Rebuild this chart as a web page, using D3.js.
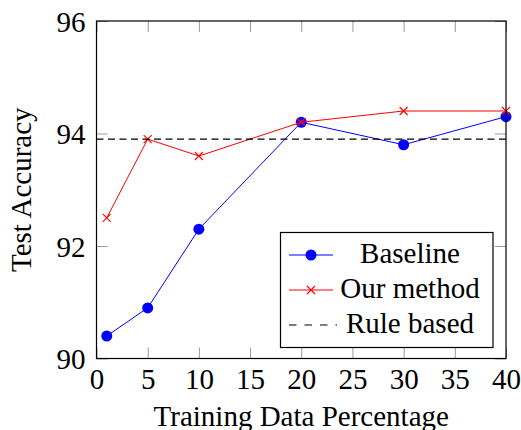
<!DOCTYPE html>
<html lang="en">
<head>
	<meta charset="UTF-8"/>
	<title>Test Accuracy vs Training Data Percentage</title>
	<script src="https://d3js.org/d3.v7.min.js"></script>
	<style>
		body { margin: 0; background: white; }
		text { font-family: "Liberation Serif", "Times New Roman", serif; font-size: 29px; fill: black; }
	</style>
</head>
<body>
	<script>
		// data
		var percentages = [1, 5, 10, 20, 30, 40];
		var baseline    = [90.4, 90.9, 92.3, 94.2, 93.8, 94.3];
		var ourMethod   = [92.5, 93.9, 93.6, 94.2, 94.4, 94.4];
		var ruleBased   = 93.9;
		var xTicks = [0, 5, 10, 15, 20, 25, 30, 35, 40];
		var yTicks = [90, 92, 94, 96];
		var seriesNames = ["Baseline", "Our method", "Rule based"];

		var w = 521;
		var h = 430;
		// plot box edges (window.top is read only, so no plain "top")
		var plotL = 96.5, plotR = 506, plotT = 21, plotB = 358.5;

		var xScale = d3.scaleLinear()
					.domain([0, 40])
					.range([plotL, plotR]);

		var yScale = d3.scaleLinear()
					.domain([90, 96])
					.range([plotB, plotT]);

		var svg = d3.select("body")
					.append("svg")
					.attr("width", w)
					.attr("height", h);

		// ticks point inward on all four sides
		var xAxis = svg.append("g")
			.attr("transform", "translate(0," + plotB + ")")
			.call(d3.axisBottom(xScale).tickValues(xTicks).tickFormat(d3.format("d"))
				.tickSize(-11).tickPadding(10));
		var yAxis = svg.append("g")
			.attr("transform", "translate(" + plotL + ",0)")
			.call(d3.axisLeft(yScale).tickValues(yTicks).tickFormat(d3.format("d"))
				.tickSize(-11).tickPadding(11));
		var xTop = svg.append("g")
			.attr("transform", "translate(0," + plotT + ")")
			.call(d3.axisTop(xScale).tickValues(xTicks).tickSize(-11).tickFormat(""));
		var yRight = svg.append("g")
			.attr("transform", "translate(" + plotR + ",0)")
			.call(d3.axisRight(yScale).tickValues(yTicks).tickSize(-11).tickFormat(""));

		[xAxis, yAxis, xTop, yRight].forEach(function(g){
			g.select(".domain").remove();
			g.selectAll("line").attr("stroke", "#999").attr("stroke-width", 1);
			g.selectAll("text")
				.attr("font-family", "Liberation Serif, serif")
				.attr("font-size", 28)
				.attr("fill", "black");
		});
		yAxis.selectAll("text").attr("dy", "0.36em");

		var line = d3.line()
			.x(function(d){ return xScale(d[0]); })
			.y(function(d){ return yScale(d[1]); });

		var basePts = percentages.map(function(p, i){ return [p, baseline[i]]; });
		var ourPts  = percentages.map(function(p, i){ return [p, ourMethod[i]]; });

		// Baseline
		svg.append("path")
			.attr("d", line(basePts))
			.attr("fill", "none")
			.attr("stroke", "blue")
			.attr("stroke-width", 1);

		svg.selectAll("circle.base")
			.data(basePts)
			.enter()
			.append("circle")
			.attr("class", "base")
			.attr("cx", function(d){ return xScale(d[0]); })
			.attr("cy", function(d){ return yScale(d[1]); })
			.attr("r", 5.5)
			.attr("fill", "blue");

		// Our method
		svg.append("path")
			.attr("d", line(ourPts))
			.attr("fill", "none")
			.attr("stroke", "red")
			.attr("stroke-width", 1);

		function cross(g, cx, cy) {
			var s = 4;
			g.append("path")
				.attr("d", "M" + (cx - s) + "," + (cy - s) + "L" + (cx + s) + "," + (cy + s) +
						   "M" + (cx - s) + "," + (cy + s) + "L" + (cx + s) + "," + (cy - s))
				.attr("stroke", "red")
				.attr("stroke-width", 1.1)
				.attr("fill", "none");
		}
		ourPts.forEach(function(d){ cross(svg, xScale(d[0]), yScale(d[1])); });

		// Rule based
		svg.append("line")
			.attr("x1", plotL).attr("x2", plotR)
			.attr("y1", yScale(ruleBased)).attr("y2", yScale(ruleBased))
			.attr("stroke", "black")
			.attr("stroke-width", 1.1)
			.attr("stroke-dasharray", "7,4.5");

		// frame
		svg.append("rect")
			.attr("x", plotL).attr("y", plotT)
			.attr("width", plotR - plotL).attr("height", plotB - plotT)
			.attr("fill", "none")
			.attr("stroke", "black")
			.attr("stroke-width", 1.2);

		// legend
		var lg = svg.append("g");
		lg.append("rect")
			.attr("x", 280.5).attr("y", 232.5)
			.attr("width", 212.5).attr("height", 115)
			.attr("fill", "white")
			.attr("stroke", "black")
			.attr("stroke-width", 1.2);

		var rows = [255, 290, 325];
		lg.append("line").attr("x1", 289).attr("x2", 333).attr("y1", rows[0]).attr("y2", rows[0])
			.attr("stroke", "blue").attr("stroke-width", 1);
		lg.append("circle").attr("cx", 311).attr("cy", rows[0]).attr("r", 5.5).attr("fill", "blue");
		lg.append("line").attr("x1", 289).attr("x2", 333).attr("y1", rows[1]).attr("y2", rows[1])
			.attr("stroke", "red").attr("stroke-width", 1);
		cross(lg, 311, rows[1]);
		lg.append("line").attr("x1", 289).attr("x2", 337).attr("y1", rows[2]).attr("y2", rows[2])
			.attr("stroke", "black").attr("stroke-width", 1.1)
			.attr("stroke-dasharray", "7.5,8");

		lg.selectAll("text.legend")
			.data(seriesNames)
			.enter()
			.append("text")
			.attr("class", "legend")
			.attr("text-anchor", "middle")
			.attr("x", 410)
			.attr("y", function(d, i){ return rows[i] + 8; })
			.text(function(d){ return d; });

		// axis labels
		svg.append("text")
			.attr("text-anchor", "middle")
			.attr("x", (plotL + plotR) / 2)
			.attr("y", 426)
			.text("Training Data Percentage");

		svg.append("text")
			.attr("text-anchor", "middle")
			.attr("transform", "rotate(-90)")
			.attr("x", -(plotT + plotB) / 2)
			.attr("y", 31)
			.text("Test Accuracy");
	</script>
</body>
</html>
